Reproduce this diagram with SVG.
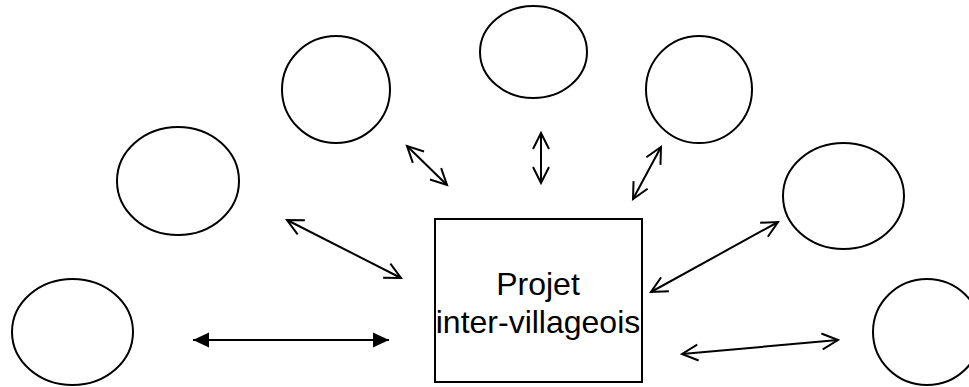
<svg xmlns="http://www.w3.org/2000/svg" width="969" height="387" viewBox="0 0 969 387">
  <style>
    .node { fill: #fff; stroke: #000; stroke-width: 2; }
    .conn { fill: none; stroke: #000; stroke-width: 2; }
    .label { font-family: "Liberation Sans", Arial, sans-serif; font-size: 32px; fill: #000; text-anchor: middle; }
  </style>
  <defs>
    <marker id="open" viewBox="-20 -12 24 24" refX="0" refY="0" markerWidth="24" markerHeight="24" markerUnits="userSpaceOnUse" orient="auto-start-reverse">
      <path d="M-16,-8 L0,0 L-16,8" fill="none" stroke="#000" stroke-width="2" stroke-linejoin="miter"/>
    </marker>
    <marker id="solid" viewBox="-18 -10 20 20" refX="0" refY="0" markerWidth="20" markerHeight="20" markerUnits="userSpaceOnUse" orient="auto-start-reverse">
      <path d="M-16,-7.5 L0,0 L-16,7.5 Z" fill="#000"/>
    </marker>
  </defs>
  <rect width="969" height="387" fill="#fff"/>
  <g id="village-1"><ellipse class="node" cx="72.5" cy="332" rx="60.5" ry="53"/></g>
  <g id="village-2"><ellipse class="node" cx="178" cy="181" rx="61" ry="54"/></g>
  <g id="village-3"><ellipse class="node" cx="336" cy="89.5" rx="54" ry="53.5"/></g>
  <g id="village-4"><ellipse class="node" cx="533.5" cy="52" rx="53.5" ry="46"/></g>
  <g id="village-5"><ellipse class="node" cx="699" cy="89.5" rx="53" ry="53.5"/></g>
  <g id="village-6"><ellipse class="node" cx="843.5" cy="196" rx="60.5" ry="53"/></g>
  <g id="village-7"><ellipse class="node" cx="927" cy="332" rx="54" ry="53"/></g>
  <g id="projet">
    <rect class="node" x="435" y="219" width="207" height="163"/>
    <text class="label" x="538" y="295">Projet</text>
    <text class="label" x="538" y="333">inter-villageois</text>
  </g>
  <g id="connectors">
    <line class="conn" x1="193" y1="340" x2="389" y2="340" marker-start="url(#solid)" marker-end="url(#solid)"/>
    <line class="conn" x1="287" y1="220" x2="401" y2="278" marker-start="url(#open)" marker-end="url(#open)"/>
    <line class="conn" x1="407" y1="146" x2="447" y2="185" marker-start="url(#open)" marker-end="url(#open)"/>
    <line class="conn" x1="541" y1="133" x2="541" y2="183" marker-start="url(#open)" marker-end="url(#open)"/>
    <line class="conn" x1="661" y1="147" x2="633" y2="199" marker-start="url(#open)" marker-end="url(#open)"/>
    <line class="conn" x1="778" y1="222" x2="651" y2="292" marker-start="url(#open)" marker-end="url(#open)"/>
    <line class="conn" x1="682" y1="354" x2="838" y2="340" marker-start="url(#open)" marker-end="url(#open)"/>
  </g>
</svg>
